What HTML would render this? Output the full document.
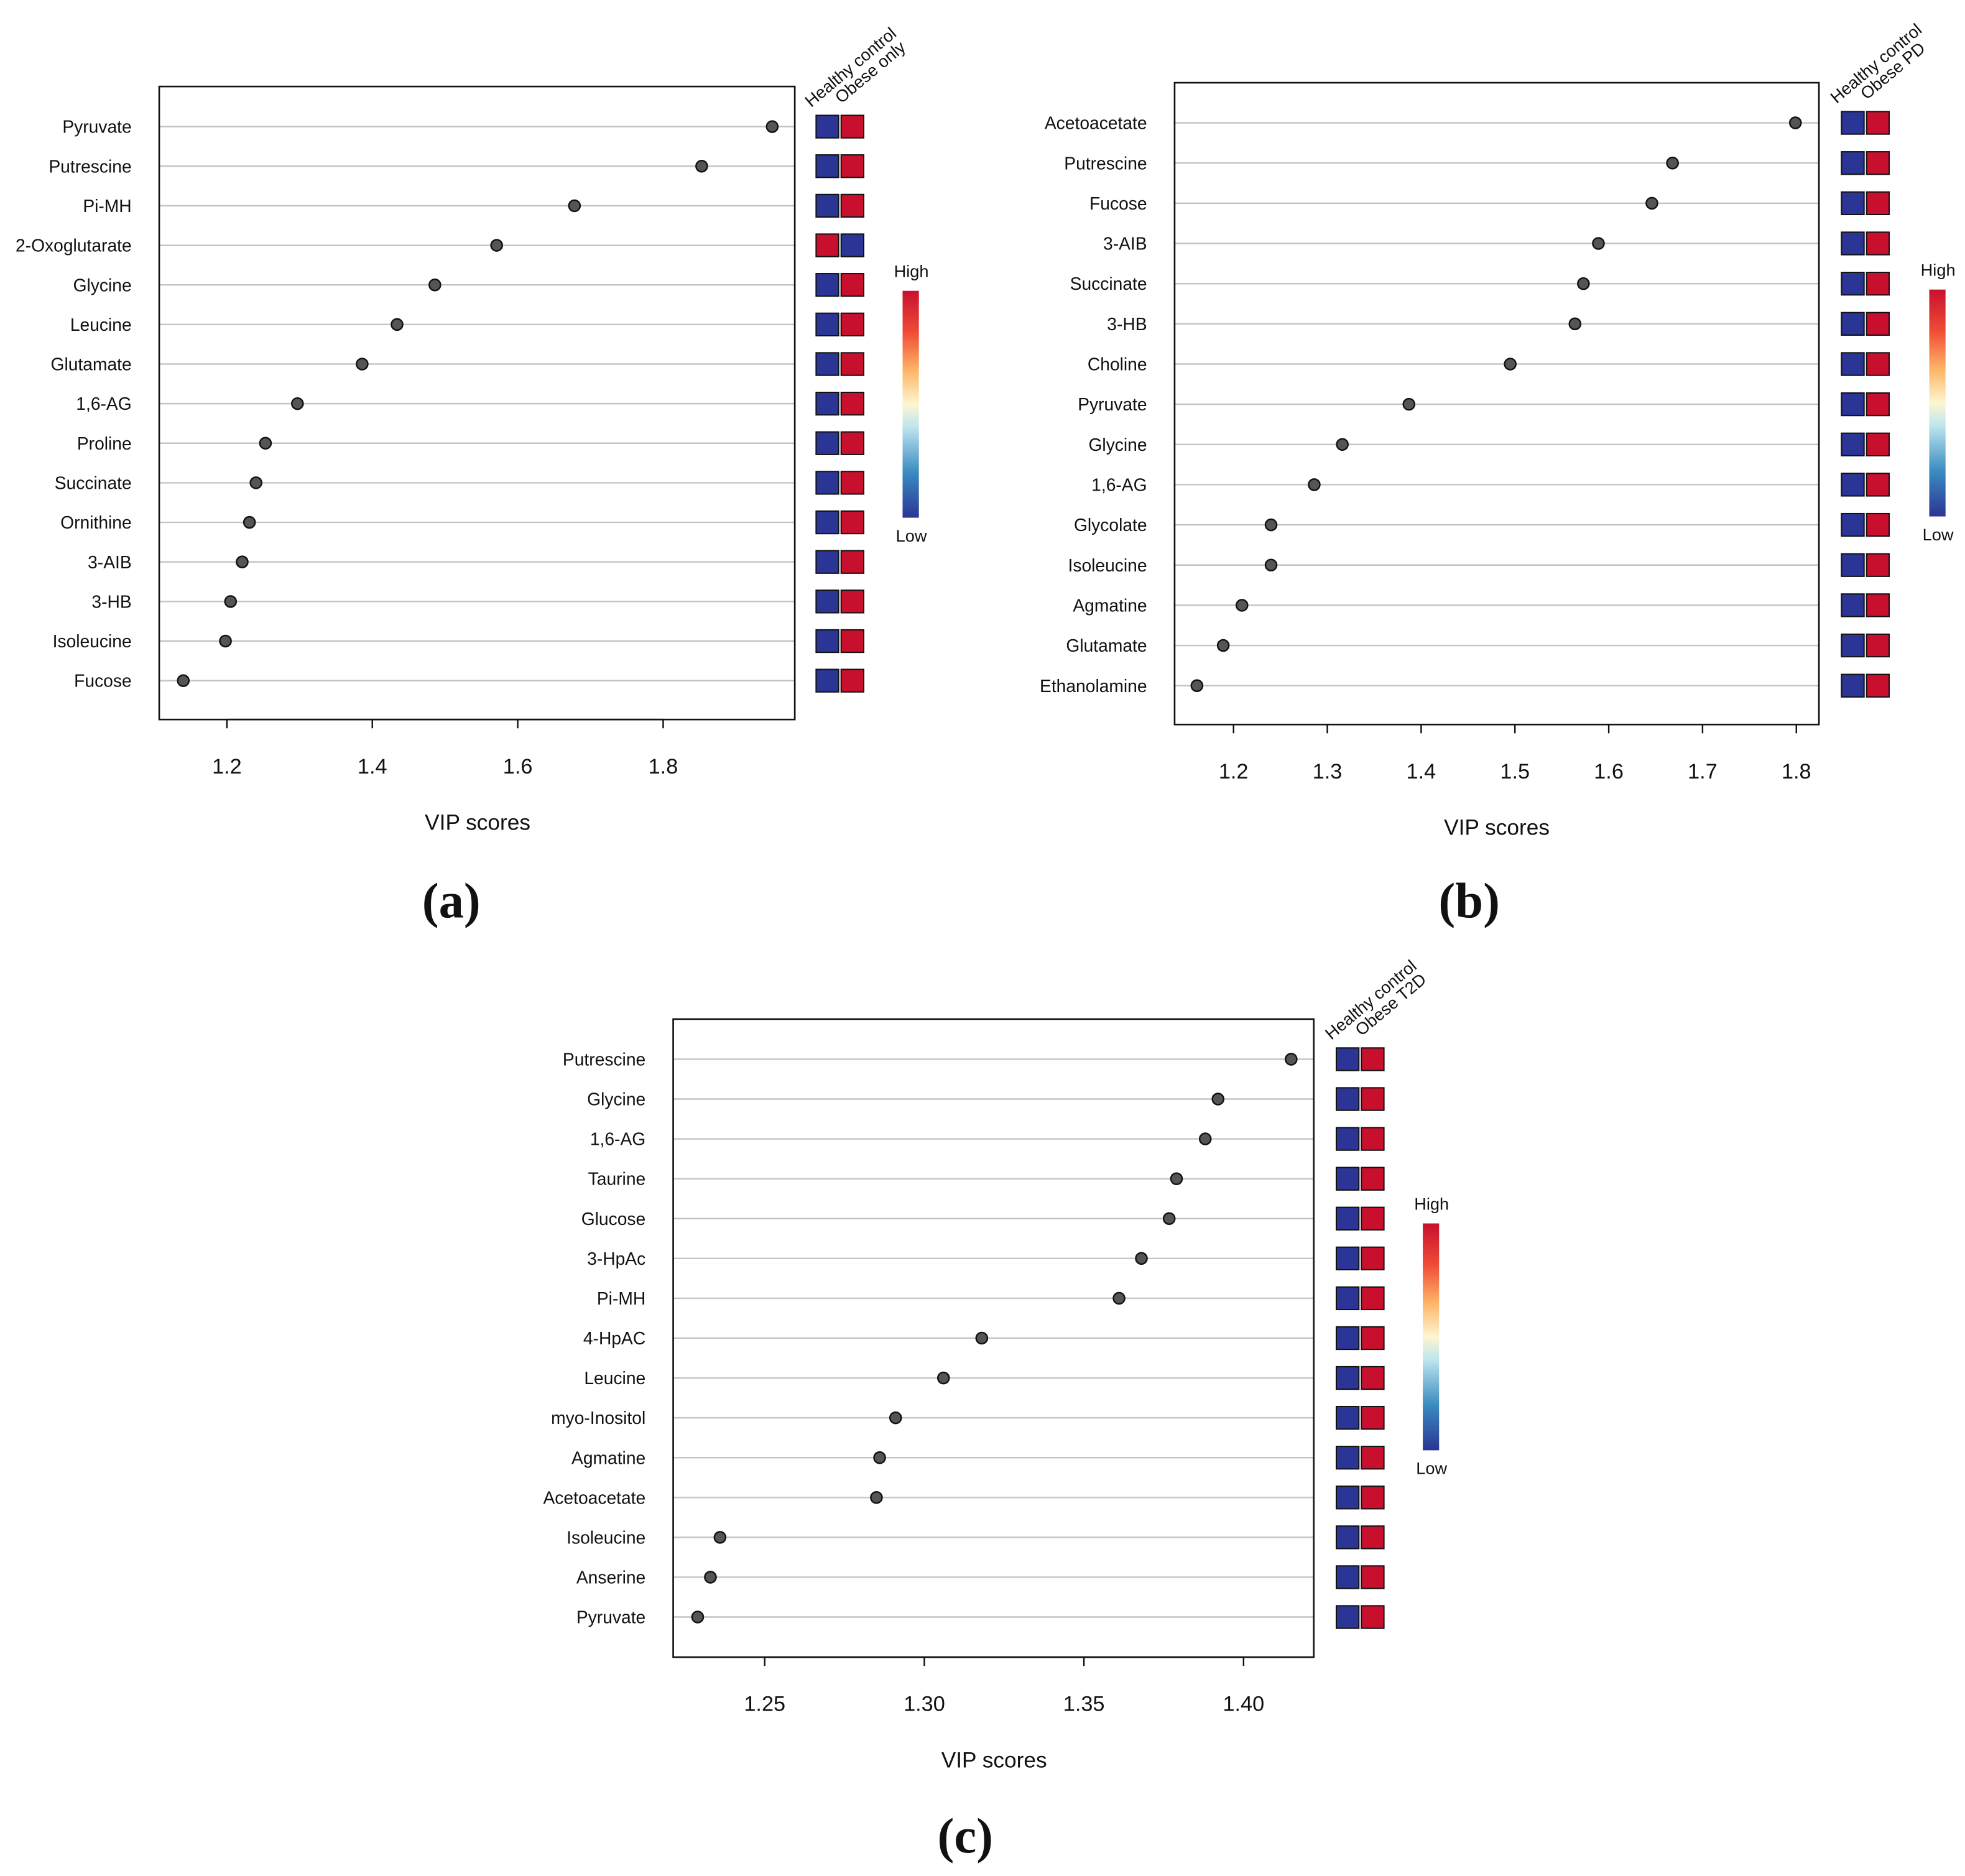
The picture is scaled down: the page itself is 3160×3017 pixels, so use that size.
<!DOCTYPE html>
<html><head><meta charset="utf-8"><style>
html,body{margin:0;padding:0;background:#fff}
svg{display:block;font-family:"Liberation Sans",sans-serif}
</style></head><body>
<svg id="chart" width="3160" height="3017" viewBox="0 0 1567.5 1496.6" xmlns="http://www.w3.org/2000/svg">
<defs>
<linearGradient id="cb" x1="0" y1="1" x2="0" y2="0">
<stop offset="0" stop-color="#2b3595"/><stop offset="0.2" stop-color="#3a8cc0"/><stop offset="0.4" stop-color="#bfe5ef"/><stop offset="0.5" stop-color="#fdf6d0"/><stop offset="0.65" stop-color="#fdb466"/><stop offset="0.82" stop-color="#f04a36"/><stop offset="1" stop-color="#c8102e"/>
</linearGradient>
</defs>
</svg>
<script>
const catsA=["Pyruvate","Putrescine","Pi-MH","2-Oxoglutarate","Glycine","Leucine","Glutamate","1,6-AG","Proline","Succinate","Ornithine","3-AIB","3-HB","Isoleucine","Fucose"];
const valsA=[1.95,1.853,1.678,1.571,1.486,1.434,1.386,1.297,1.253,1.240,1.231,1.221,1.205,1.198,1.140];
const hiA=[1,1,1,0,1,1,1,1,1,1,1,1,1,1,1];
const ticksA=["1.2","1.4","1.6","1.8"];
const catsB=["Acetoacetate","Putrescine","Fucose","3-AIB","Succinate","3-HB","Choline","Pyruvate","Glycine","1,6-AG","Glycolate","Isoleucine","Agmatine","Glutamate","Ethanolamine"];
const valsB=[1.799,1.668,1.646,1.589,1.573,1.564,1.495,1.387,1.316,1.286,1.240,1.240,1.209,1.189,1.161];
const hiB=[1,1,1,1,1,1,1,1,1,1,1,1,1,1,1];
const ticksB=["1.2","1.3","1.4","1.5","1.6","1.7","1.8"];
const catsC=["Putrescine","Glycine","1,6-AG","Taurine","Glucose","3-HpAc","Pi-MH","4-HpAC","Leucine","myo-Inositol","Agmatine","Acetoacetate","Isoleucine","Anserine","Pyruvate"];
const valsC=[1.4149,1.392,1.388,1.379,1.3767,1.368,1.361,1.318,1.306,1.291,1.286,1.285,1.236,1.233,1.229];
const hiC=[1,1,1,1,1,1,1,1,1,1,1,1,1,1,1];
const ticksC=["1.25","1.30","1.35","1.40"];

const NS="http://www.w3.org/2000/svg";
const svg=document.getElementById('chart');
function mk(tag,attrs,parent,text){const e=document.createElementNS(NS,tag);for(const k in attrs)e.setAttribute(k,attrs[k]);if(text!==undefined)e.textContent=text;(parent||svg).appendChild(e);return e;}

function panel(p){
  const g=mk('g',{});
  
  
  const xs=v=>p.x0+(v-p.v0)*p.k;
  const n=p.cats.length;
  const ys=i=>p.yTop+i*(p.yBot-p.yTop)/(n-1);
  p.cats.forEach((c,i)=>{
    const y=ys(i);
    const gl=mk('line',{x1:p.bx1,x2:p.bx2,y1:y,y2:y,stroke:'#c4c4c4','stroke-width':1.2},g);
    
    
    const t=mk('text',{x:p.bx1-22,y:y+5,'text-anchor':'end','font-size':14,fill:'#111'},g,c);
    
    
    const pt=mk('circle',{cx:xs(p.vals[i]),cy:y,r:4.5,fill:'#555',stroke:'#111','stroke-width':1.2},g);
    
    
    const h=p.hi[i];
    const s1=mk('rect',{x:p.sq,y:y-9,width:18,height:18,fill:h?'#2b3595':'#c8102e',stroke:'#111','stroke-width':1},g);
    
    
    const s2=mk('rect',{x:p.sq+20,y:y-9,width:18,height:18,fill:h?'#c8102e':'#2b3595',stroke:'#111','stroke-width':1},g);
    
    
  });
  const box=mk('rect',{x:p.bx1,y:p.by1,width:p.bx2-p.bx1,height:p.by2-p.by1,fill:'none',stroke:'#111','stroke-width':1.3},g);
  
  
  p.ticks.forEach(tk=>{
    const x=xs(parseFloat(tk));
    const tl=mk('line',{x1:x,x2:x,y1:p.by2,y2:p.by2+7,stroke:'#111','stroke-width':1.2},g);
    
    
    const tt=mk('text',{x:x,y:p.by2+43,'text-anchor':'middle','font-size':17,fill:'#111'},g,tk);
    
    
  });
  const ax=mk('line',{x1:xs(parseFloat(p.ticks[0])),x2:xs(parseFloat(p.ticks[p.ticks.length-1])),y1:p.by2,y2:p.by2,stroke:'#111','stroke-width':1.2},g);
  
  
  const xt=mk('text',{x:p.xtX,y:p.by2+88,'text-anchor':'middle','font-size':17.5,fill:'#111'},g,'VIP scores');
  
  
  const lb=mk('text',{x:p.lbX,y:p.lbY,'text-anchor':'middle','font-size':40,'font-weight':'bold','font-family':'"Liberation Serif",serif',fill:'#111'},g,'('+p.id+')');
  
  
  const y0=ys(0);
  const h1=mk('text',{x:p.sq-4,y:y0-15,'font-size':13.5,fill:'#111',transform:`rotate(-40 ${p.sq-4} ${y0-15})`},g,'Healthy control');
  
  
  const h2=mk('text',{x:p.sq+20,y:y0-18,'font-size':13.5,fill:'#111',transform:`rotate(-40 ${p.sq+20} ${y0-18})`},g,p.caseName);
  
  
  const cb=mk('rect',{x:p.cbx,y:p.cby,width:13,height:181,fill:'url(#cb)'},g);
  
  
  const hi=mk('text',{x:p.cbx+7,y:p.cby-11,'text-anchor':'middle','font-size':13.5,fill:'#111'},g,'High');
  
  
  const lo=mk('text',{x:p.cbx+7,y:p.cby+200,'text-anchor':'middle','font-size':13.5,fill:'#111'},g,'Low');
  
  
}
panel({id:'a',cats:catsA,vals:valsA,hi:hiA,ticks:ticksA,x0:181,v0:1.2,k:580,yTop:101,yBot:543,bx1:127,bx2:634,by1:69,by2:574,sq:651,cbx:720,cby:232,xtX:381,lbX:360,lbY:732,caseName:'Obese only'});
panel({id:'b',cats:catsB,vals:valsB,hi:hiB,ticks:ticksB,x0:984,v0:1.2,k:748.3,yTop:98,yBot:547,bx1:937,bx2:1451,by1:66,by2:578,sq:1469,cbx:1539,cby:231,xtX:1194,lbX:1172,lbY:732,caseName:'Obese PD'});
panel({id:'c',cats:catsC,vals:valsC,hi:hiC,ticks:ticksC,x0:610,v0:1.25,k:2546.7,yTop:845,yBot:1290,bx1:537,bx2:1048,by1:813,by2:1322,sq:1066,cbx:1135,cby:976,xtX:793,lbX:770,lbY:1478,caseName:'Obese T2D'});
</script>
</body></html>
